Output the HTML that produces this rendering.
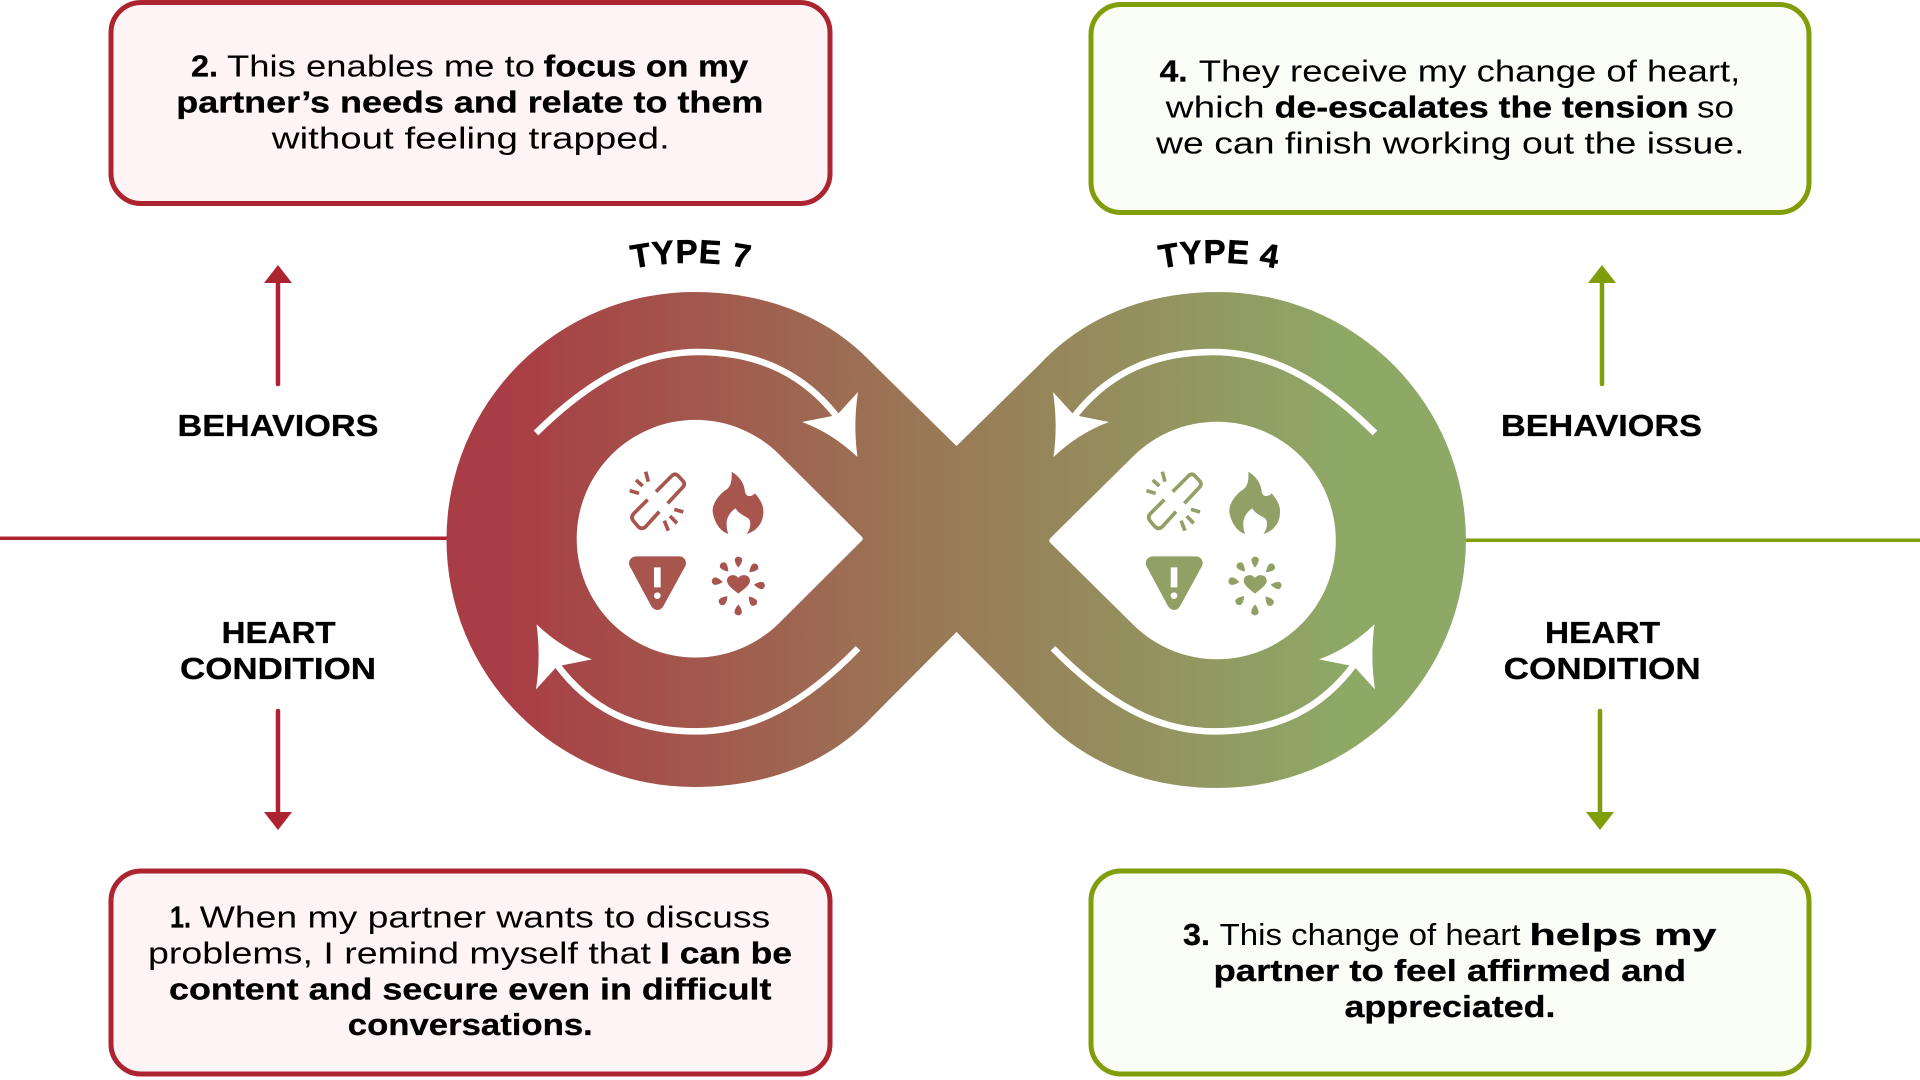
<!DOCTYPE html>
<html><head><meta charset="utf-8"><style>
html,body{margin:0;padding:0;background:#fff;width:1920px;height:1080px;overflow:hidden}
svg{display:block}
text{font-family:"Liberation Sans",sans-serif;font-size:31px;fill:#000}
.b{font-weight:700;stroke:#000;stroke-width:.3px}
.t{font-weight:700;font-size:33px;letter-spacing:.6px;stroke:#000;stroke-width:.6px}
</style></head><body>
<svg width="1920" height="1080" viewBox="0 0 1920 1080" xmlns="http://www.w3.org/2000/svg">
<defs>
<linearGradient id="g" gradientUnits="userSpaceOnUse" x1="510" y1="0" x2="1340" y2="0">
<stop offset="0" stop-color="#A93D45"/><stop offset=".5" stop-color="#9A7856"/><stop offset="1" stop-color="#8EA866"/>
</linearGradient>
<g id="ic">
<g fill="none" stroke-width="11" stroke-linecap="butt" stroke-linejoin="round">
<path d="M288 125L335 78Q345 68 355 78L368 92Q378 102 368 112L323 160"/>
<path d="M263 149L222 190Q210 202 222 215L235 230Q245 240 257 230L298 185"/>
<path d="M209 122L237 130M228 90L248 108M257 65L265 95M343 178L370 186M330 198L351 220M313 212L325 242"/>
</g>
<path stroke="none" d="M515 65C535 78 552 95 555 125C557 138 570 145 585 130C600 148 612 165 610 190C608 225 585 245 560 252C572 235 575 215 565 205C550 195 535 190 527 175C510 185 498 205 500 225C500 238 503 245 505 252C480 245 462 215 458 185C456 160 480 130 500 118C515 108 516 85 515 65Z"/>
<path stroke="none" fill-rule="evenodd" d="M228 319H358C374 319 383 336 375 350L312 465C303 485 282 485 272 465L210 350C202 336 212 319 228 319ZM282 352V412H302V352ZM292 427A10 10 0 1 0 292 447A10 10 0 1 0 292 427Z"/>
<path stroke="none" d="M535 431C520 419 501 406 501 392C501 374 526 370 535 384C544 370 570 374 570 392C570 406 550 419 535 431Z"/>
<path stroke="none" d="M535 353C526 342 523 332 525 326Q535 314 546 326C548 332 544 342 535 353Z"/>
<path stroke="none" d="M535 353C526 342 523 332 525 326Q535 314 546 326C548 332 544 342 535 353Z" transform="rotate(45 535 400)"/>
<path stroke="none" d="M535 353C526 342 523 332 525 326Q535 314 546 326C548 332 544 342 535 353Z" transform="rotate(95 535 400)"/>
<path stroke="none" d="M535 353C526 342 523 332 525 326Q535 314 546 326C548 332 544 342 535 353Z" transform="rotate(140 535 402)"/>
<path stroke="none" d="M535 353C526 342 523 332 525 326Q535 314 546 326C548 332 544 342 535 353Z" transform="rotate(180 535 408)"/>
<path stroke="none" d="M535 353C526 342 523 332 525 326Q535 314 546 326C548 332 544 342 535 353Z" transform="rotate(222 535 402)"/>
<path stroke="none" d="M535 353C526 342 523 332 525 326Q535 314 546 326C548 332 544 342 535 353Z" transform="rotate(275 535 400)"/>
<path stroke="none" d="M535 353C526 342 523 332 525 326Q535 314 546 326C548 332 544 342 535 353Z" transform="rotate(-42 535 398)"/>
</g>
<g id="arr">
<path d="M536 433C590 380 640 352 698 352C760 352 805 375 838 418" fill="none" stroke="#fff" stroke-width="6.5"/>
<path d="M858 392L837 415L802 422Q832 433 857.5 457Q853 425 858 392Z" fill="#fff"/>
</g>
<g id="arr2">
<path d="M536 433C590 378 640 350 698 350C760 350 805 373 838 418" fill="none" stroke="#fff" stroke-width="6.5"/>
<path d="M858 392L837 415L802 422Q832 433 857.5 457Q853 425 858 392Z" fill="#fff"/>
</g>
</defs>

<!-- horizontal lines -->
<rect x="0" y="536.5" width="450" height="3.5" fill="#AE2530"/>
<rect x="1460" y="538.5" width="460" height="3.5" fill="#7F9E0A"/>

<!-- infinity -->
<path d="M694 292C762 292 826 314 873 364L956.5 446L1040 364C1087 314 1151 292 1218 292A248 248 0 0 1 1218 788C1151 788 1087 766 1040 716L956.5 632L873 716C826 766 762 787 694 787A247.500 247.500 0 0 1 694 292Z" fill="url(#g)"/>
<path d="M779.5 454.7A118.8 118.8 0 1 0 779.5 622.7L861.5 541Q864 538.7 861.5 536.4Z" fill="#fff"/>
<path d="M1133 456.5A118.8 118.8 0 1 1 1133 624.5L1050.5 543Q1048 540.5 1050.5 538Z" fill="#fff"/>

<!-- cycle arrows -->
<use href="#arr"/>
<use href="#arr2" transform="rotate(180 697 540.7)"/>
<use href="#arr" transform="translate(1911 0) scale(-1 1)"/>
<use href="#arr2" transform="translate(1911 0) scale(-1 1) rotate(180 697 540.7)"/>

<!-- icons -->
<use href="#ic" transform="translate(560 450) scale(.3333)" fill="#A8564D" stroke="#A8564D"/>
<use href="#ic" transform="translate(1076.7 450) scale(.3333)" fill="#91A165" stroke="#91A165"/>

<!-- boxes -->
<rect x="111" y="2.5" width="719" height="201" rx="30" fill="#FEF4F5" stroke="#AC2430" stroke-width="5"/>
<rect x="1091" y="4.5" width="718" height="208" rx="30" fill="#FAFCF6" stroke="#7F9E0A" stroke-width="5"/>
<rect x="111" y="871" width="719" height="203" rx="30" fill="#FEF4F5" stroke="#AC2430" stroke-width="5"/>
<rect x="1091" y="871" width="718" height="203" rx="30" fill="#FAFCF6" stroke="#7F9E0A" stroke-width="5"/>

<!-- vertical arrows -->
<path d="M278 384V280" stroke="#AC2430" stroke-width="4.500" stroke-linecap="round"/>
<path d="M278 265L292 283H264Z" fill="#AC2430"/>
<path d="M278 711V815" stroke="#AC2430" stroke-width="4.500" stroke-linecap="round"/>
<path d="M278 830L292 812H264Z" fill="#AC2430"/>
<path d="M1602 384V280" stroke="#7F9E0A" stroke-width="4.500" stroke-linecap="round"/>
<path d="M1602 265L1616 283H1588Z" fill="#7F9E0A"/>
<path d="M1600 711V815" stroke="#7F9E0A" stroke-width="4.500" stroke-linecap="round"/>
<path d="M1600 830L1614 812H1586Z" fill="#7F9E0A"/>

<!-- box 2 -->
<text class="b" x="191" y="76.300" textLength="27" lengthAdjust="spacingAndGlyphs">2.</text>
<text x="227" y="76.300" textLength="308" lengthAdjust="spacingAndGlyphs">This enables me to</text>
<text class="b" x="543.7" y="76.300" textLength="204.500" lengthAdjust="spacingAndGlyphs">focus on my</text>
<text class="b" x="176.300" y="112.300" textLength="587" lengthAdjust="spacingAndGlyphs">partner’s needs and relate to them</text>
<text x="271.800" y="148.300" textLength="398" lengthAdjust="spacingAndGlyphs">without feeling trapped.</text>

<!-- box 4 -->
<text class="b" x="1159.6" y="81.300" textLength="28" lengthAdjust="spacingAndGlyphs">4.</text>
<text x="1198.800" y="81.300" textLength="541.500" lengthAdjust="spacingAndGlyphs">They receive my change of heart,</text>
<text x="1165.700" y="117.300" textLength="99" lengthAdjust="spacingAndGlyphs">which</text>
<text class="b" x="1274.700" y="117.300" textLength="414" lengthAdjust="spacingAndGlyphs">de-escalates the tension</text>
<text x="1697" y="117.300" textLength="37" lengthAdjust="spacingAndGlyphs">so</text>
<text x="1156" y="153.300" textLength="588.500" lengthAdjust="spacingAndGlyphs">we can finish working out the issue.</text>

<!-- box 1 -->
<text class="b" x="170" y="927.300" textLength="21" lengthAdjust="spacingAndGlyphs">1.</text>
<text x="199.600" y="927.300" textLength="570.600" lengthAdjust="spacingAndGlyphs">When my partner wants to discuss</text>
<text x="148" y="963.300" textLength="503" lengthAdjust="spacingAndGlyphs">problems, I remind myself that</text>
<text class="b" x="660" y="963.300" textLength="132" lengthAdjust="spacingAndGlyphs">I can be</text>
<text class="b" x="169" y="999.500" textLength="602.500" lengthAdjust="spacingAndGlyphs">content and secure even in difficult</text>
<text class="b" x="347.800" y="1035" textLength="245" lengthAdjust="spacingAndGlyphs">conversations.</text>

<!-- box 3 -->
<text class="b" x="1183" y="945" textLength="27" lengthAdjust="spacingAndGlyphs">3.</text>
<text x="1219.600" y="945" textLength="301" lengthAdjust="spacingAndGlyphs">This change of heart</text>
<text class="b" x="1529.400" y="945" textLength="187" lengthAdjust="spacingAndGlyphs">helps my</text>
<text class="b" x="1213.500" y="981" textLength="472.600" lengthAdjust="spacingAndGlyphs">partner to feel affirmed and</text>
<text class="b" x="1344.500" y="1017" textLength="211" lengthAdjust="spacingAndGlyphs">appreciated.</text>

<!-- side labels -->
<text class="b" x="177.500" y="436" textLength="201" lengthAdjust="spacingAndGlyphs">BEHAVIORS</text>
<text class="b" x="221.600" y="643" textLength="114" lengthAdjust="spacingAndGlyphs">HEART</text>
<text class="b" x="180" y="679" textLength="196" lengthAdjust="spacingAndGlyphs">CONDITION</text>
<text class="b" x="1501" y="436" textLength="201" lengthAdjust="spacingAndGlyphs">BEHAVIORS</text>
<text class="b" x="1545" y="643" textLength="115" lengthAdjust="spacingAndGlyphs">HEART</text>
<text class="b" x="1503.700" y="679" textLength="197" lengthAdjust="spacingAndGlyphs">CONDITION</text>

<!-- arced titles -->
<path id="a7" d="M591 280A300 300 0 0 1 791 280" fill="none"/>
<path id="a4" d="M1119 280A300 300 0 0 1 1319 280" fill="none"/>
<text class="t" text-anchor="middle"><textPath href="#a7" startOffset="50%">TYPE 7</textPath></text>
<text class="t" text-anchor="middle"><textPath href="#a4" startOffset="50%">TYPE 4</textPath></text>
</svg>
</body></html>
